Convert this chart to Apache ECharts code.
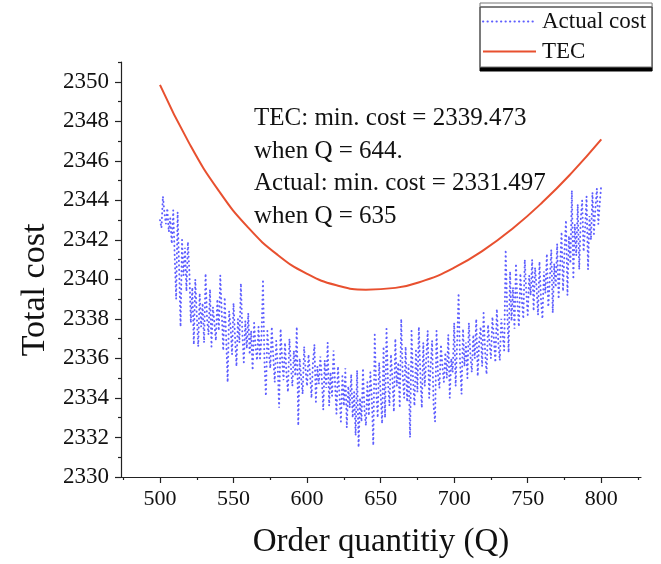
<!DOCTYPE html>
<html>
<head>
<meta charset="utf-8">
<script src="https://cdn.jsdelivr.net/npm/echarts@6/dist/echarts.min.js"></script>
<style>
html,body{margin:0;padding:0;background:#fff;}
#chart{width:661px;height:564px;}
</style>
</head>
<body>
<div id="chart"></div>
<script>
// ---- data ----
const orderQtyStart = 500; // actual cost sampled at every integer Q from 500 to 800
const actualCost = [
  2343.0, 2342.6, 2344.2, 2343.4, 2342.8, 2343.6, 2342.4, 2343.1, 2341.8, 2343.5,
  2341.2, 2339.0, 2343.4, 2340.6, 2337.6, 2342.0, 2340.2, 2341.6, 2339.4, 2341.9,
  2340.4, 2337.8, 2339.6, 2336.7, 2340.0, 2338.2, 2336.6, 2339.3, 2337.6, 2338.8,
  2336.8, 2340.3, 2338.0, 2337.2, 2339.5, 2336.6, 2338.6, 2337.8, 2336.9, 2339.0,
  2337.4, 2340.2, 2338.3, 2336.4, 2339.1, 2337.0, 2334.8, 2338.4, 2337.6, 2336.2,
  2338.8, 2337.1, 2335.6, 2338.0, 2336.8, 2339.8, 2337.3, 2335.8, 2337.9, 2336.5,
  2338.3, 2336.2, 2337.4, 2335.4, 2337.8, 2336.6, 2335.9, 2337.6, 2336.0, 2337.1,
  2340.0, 2335.9, 2334.1, 2337.4, 2336.3, 2335.5, 2337.6, 2336.1, 2334.8, 2336.9,
  2335.7, 2333.5, 2337.5, 2336.0, 2334.9, 2336.8, 2335.2, 2334.3, 2337.0, 2335.6,
  2334.6, 2336.4, 2335.1, 2337.6, 2332.6, 2336.0, 2335.0, 2334.2, 2336.6, 2335.4,
  2334.6, 2336.2, 2335.2, 2334.0, 2335.8, 2336.7, 2333.8, 2335.6, 2334.7, 2336.1,
  2335.0, 2333.4, 2335.9, 2334.5, 2336.8, 2333.6, 2335.3, 2334.1, 2336.4, 2334.8,
  2333.2, 2335.6, 2334.2, 2332.8, 2335.1, 2333.6, 2335.5, 2332.5, 2334.6, 2333.5,
  2335.2, 2333.0, 2334.3, 2332.1, 2335.4, 2331.497, 2334.0, 2332.8, 2335.5, 2333.4,
  2332.6, 2334.8, 2333.1, 2335.3, 2334.0, 2331.6, 2337.2, 2334.4, 2333.0, 2335.8,
  2334.2, 2332.7, 2336.6, 2333.0, 2337.5, 2334.8, 2333.6, 2336.2, 2335.0, 2333.3,
  2337.0, 2334.6, 2335.8, 2333.5, 2338.0, 2335.2, 2334.0, 2336.6, 2333.8, 2335.7,
  2332.0, 2337.4, 2335.0, 2333.6, 2336.4, 2334.3, 2337.6, 2335.2, 2333.5, 2336.8,
  2334.6, 2336.0, 2337.4, 2334.0, 2335.6, 2336.9, 2333.6, 2332.8, 2337.4, 2335.2,
  2334.5, 2336.7, 2335.6, 2334.8, 2336.3, 2335.0, 2337.2, 2334.0, 2336.0, 2335.3,
  2337.8, 2334.6, 2336.8, 2339.3, 2335.8, 2334.2, 2337.5, 2335.6, 2336.8, 2335.0,
  2337.8, 2336.2, 2335.3, 2337.2, 2336.0, 2338.0, 2335.1, 2336.9, 2337.6, 2335.6,
  2338.3, 2336.4, 2335.2, 2337.7, 2336.8, 2336.0, 2338.1, 2337.0, 2335.8, 2338.5,
  2336.8, 2335.9, 2338.0, 2337.2, 2336.4, 2341.5, 2338.6, 2336.3, 2340.4, 2337.9,
  2339.6, 2337.5, 2340.8, 2338.8, 2337.6, 2340.3, 2339.0, 2338.0, 2341.0, 2339.4,
  2338.2, 2340.2, 2339.2, 2341.0, 2338.4, 2340.6, 2339.6, 2338.2, 2340.9, 2339.0,
  2338.0, 2340.4, 2339.3, 2341.3, 2338.6, 2340.0, 2341.5, 2338.3, 2340.8, 2339.6,
  2341.8, 2339.0, 2340.7, 2342.4, 2339.4, 2341.5, 2343.0, 2339.2, 2342.2, 2340.8,
  2344.5, 2340.0, 2342.8, 2341.2, 2343.8, 2340.5, 2343.0, 2344.0, 2341.4, 2342.6,
  2344.2, 2340.5, 2343.2, 2342.0, 2344.4, 2342.3, 2343.6, 2344.6, 2342.8, 2343.9,
  2344.8
];
const orderQty = actualCost.map((_, i) => orderQtyStart + i);

const tecQty  = [500, 520, 540, 560, 580, 600, 620, 640, 660, 680, 700, 720, 740, 760, 780, 800];
const tecCost = [2349.84, 2346.87, 2344.48, 2342.62, 2341.24, 2340.28, 2339.70, 2339.48,
                 2339.57, 2339.95, 2340.59, 2341.48, 2342.59, 2343.90, 2345.40, 2347.08];

const xMajorTicks = [500, 550, 600, 650, 700, 750, 800];
const xMinorTicks = [475, 525, 575, 625, 675, 725, 775, 825];
const yMajorTicks = [2330, 2332, 2334, 2336, 2338, 2340, 2342, 2344, 2346, 2348, 2350];
const yMinorTicks = [2331, 2333, 2335, 2337, 2339, 2341, 2343, 2345, 2347, 2349, 2351];

const seriesNames = ['Actual cost', 'TEC'];
const noteLines = [
  'TEC: min. cost = 2339.473',
  'when Q = 644.',
  'Actual: min. cost = 2331.497',
  'when Q = 635'
];
const xTitle = 'Order quantitiy (Q)';
const yTitle = 'Total cost';

// ---- chart ----
const FONT = "'Liberation Serif', 'Times New Roman', serif";
const AX = '#222';
const xMin = 473.5, xMax = 827, yMin = 2330, yMax = 2351;

const chart = echarts.init(document.getElementById('chart'), null, {renderer: 'canvas'});

const option = {
  animation: false,
  backgroundColor: '#fff',
  grid: {left: 121, right: 20, top: 62, bottom: 83, containLabel: false},
  legend: {
    data: seriesNames,
    orient: 'vertical',
    left: 480, top: 3,
    padding: [7, 6, 4, 2],
    itemWidth: 53, itemHeight: 20, itemGap: 7,
    backgroundColor: '#fff',
    borderColor: '#777', borderWidth: 1,
    shadowColor: '#000', shadowOffsetY: 4, shadowOffsetX: 0, shadowBlur: 0,
    itemStyle: {opacity: 0},
    textStyle: {fontFamily: FONT, fontSize: 23, color: '#111', padding: [0, 0, 0, 1]}
  },
  xAxis: [{
    type: 'value', min: xMin, max: xMax,
    name: xTitle, nameLocation: 'middle', nameGap: 49,
    nameTextStyle: {fontFamily: FONT, fontSize: 33, color: '#111'},
    axisLine: {show: true, lineStyle: {color: AX, width: 1.2}},
    axisTick: {show: true, customValues: xMajorTicks, length: 6, inside: false, lineStyle: {color: AX, width: 1.2}},
    axisLabel: {customValues: xMajorTicks, fontFamily: FONT, fontSize: 22, color: '#111', margin: 11},
    splitLine: {show: false}
  }, {
    type: 'value', min: xMin, max: xMax, position: 'bottom',
    axisLine: {show: false},
    axisTick: {show: true, customValues: xMinorTicks, length: 3, lineStyle: {color: AX, width: 1.2}},
    axisLabel: {show: false}, splitLine: {show: false}
  }],
  yAxis: [{
    type: 'value', min: yMin, max: yMax,
    axisLine: {show: true, lineStyle: {color: AX, width: 1.2}},
    axisTick: {show: true, customValues: yMajorTicks, length: 6, lineStyle: {color: AX, width: 1.2}},
    axisLabel: {customValues: yMajorTicks, fontFamily: FONT, fontSize: 23, color: '#111', margin: 12,
                formatter: v => String(v)},
    splitLine: {show: false}
  }, {
    type: 'value', min: yMin, max: yMax, position: 'left',
    axisLine: {show: false},
    axisTick: {show: true, customValues: yMinorTicks, length: 3, lineStyle: {color: AX, width: 1.2}},
    axisLabel: {show: false}, splitLine: {show: false}
  }],
  series: [{
    name: seriesNames[0], type: 'line', xAxisIndex: 0, yAxisIndex: 0,
    data: orderQty.map((q, i) => [q, actualCost[i]]),
    symbol: 'none', showSymbol: false,
    lineStyle: {color: '#4242ff', width: 1.9, type: [0.3, 4.2], cap: 'round', opacity: 0.85},
    itemStyle: {color: '#4242ff'},
    z: 2
  }, {
    name: seriesNames[1], type: 'line', xAxisIndex: 0, yAxisIndex: 0,
    data: tecQty.map((q, i) => [q, tecCost[i]]),
    smooth: 0.5, symbol: 'none', showSymbol: false,
    lineStyle: {color: '#e8502f', width: 2},
    itemStyle: {color: '#e8502f'},
    z: 3
  }],
  graphic: [{
    type: 'text', left: 254, top: 102,
    style: {
      text: noteLines.join('\n'),
      font: '25px ' + FONT,
      lineHeight: 32.7,
      fill: '#111'
    }
  }, {
    type: 'text', x: 35, y: 290, rotation: Math.PI / 2,
    style: {
      text: yTitle,
      font: '34px ' + FONT,
      fill: '#111',
      align: 'center',
      verticalAlign: 'middle'
    }
  }]
};
chart.setOption(option);
</script>
</body>
</html>
